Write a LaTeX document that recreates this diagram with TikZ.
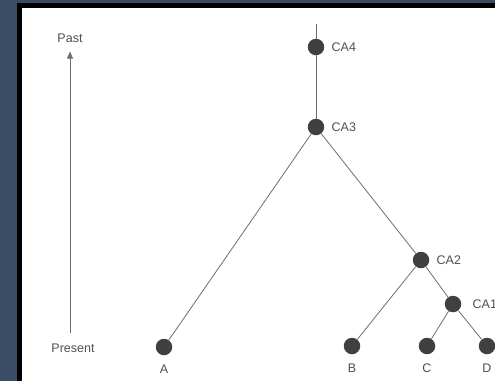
\documentclass[tikz,border=0pt]{standalone}
\usepackage{fontspec}
\setmainfont{Liberation Sans}
\usepackage{tikz}
\usetikzlibrary{arrows.meta}

\definecolor{slate}{RGB}{56,76,100}
\definecolor{dotgray}{RGB}{64,64,64}
\definecolor{linegray}{RGB}{110,110,110}
\definecolor{textgray}{RGB}{80,80,80}

\begin{document}
\begin{tikzpicture}
  [x=1pt,y=-1pt,
   every node/.style={font=\fontsize{12.5}{15}\selectfont,text=textgray,inner sep=0pt},
   dot/.style={circle,fill=dotgray,minimum size=16.5pt},
   lbl/.style={font=\fontsize{12.5}{15}\selectfont,text=textgray,inner sep=0pt},
   branch/.style={draw=linegray,line width=0.8pt}]
  % slide background and frame
  \fill[slate] (0,0) rectangle (495,381);
  \fill[black] (17,3) rectangle (495,381);
  \fill[white] (22,8) rectangle (495,381);
  \useasboundingbox (0,0) rectangle (495,381);

  % time axis
  \node (past) at (70,38) {Past};
  \node (present) at (73,348) {Present};
  \draw[branch,-{Triangle[length=7pt,width=6pt]},shorten <=10pt,shorten >=9pt]
    (present.north -| 70,0) -- (past.south);

  % tree
  \coordinate (root) at (316,24);
  \node[dot,label={[lbl,label distance=7pt]right:CA4}] (ca4) at (316,47) {};
  \node[dot,label={[lbl,label distance=7pt]right:CA3}] (ca3) at (316,127) {};
  \node[dot,label={[lbl,label distance=7pt]right:CA2}] (ca2) at (421,260) {};
  \node[dot,label={[lbl,label distance=11pt]right:CA1}] (ca1) at (453,304) {};
  \node[dot,label={[lbl,label distance=9pt]below:A}] (a) at (164,347) {};
  \node[dot,label={[lbl,label distance=9pt]below:B}] (b) at (352,346) {};
  \node[dot,label={[lbl,label distance=9pt]below:C}] (c) at (427,346) {};
  \node[dot,label={[lbl,label distance=9pt]below:D}] (d) at (487,346) {};

  \foreach \from/\to in {root/ca4,ca4/ca3,ca3/a,ca3/ca2,ca2/b,ca2/ca1,ca1/c,ca1/d}
    \draw[branch] (\from) -- (\to);
\end{tikzpicture}
\end{document}
